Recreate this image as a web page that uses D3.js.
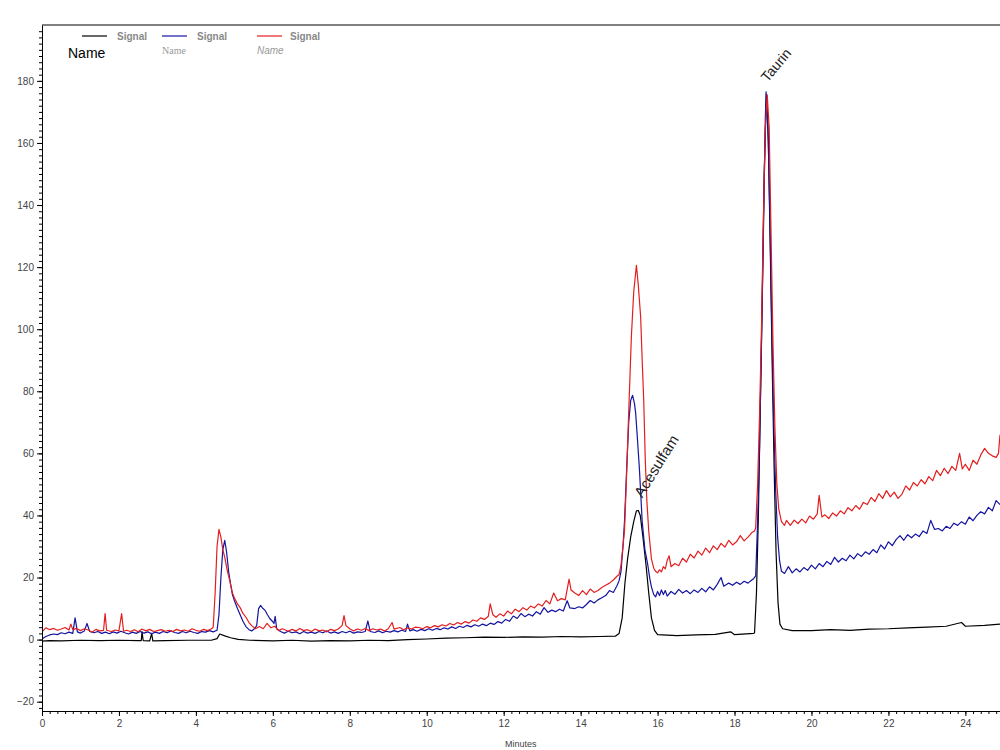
<!DOCTYPE html>
<html>
<head>
<meta charset="utf-8">
<script src="https://cdn.jsdelivr.net/npm/d3@7"></script>
<style>
  body { margin: 0; background: #fff; }
  svg { display: block; font-family: "Liberation Sans", Arial, sans-serif; }
</style>
</head>
<body>
<div id="chart"></div>
<script>
// tick labels
var xTicks = [0, 2, 4, 6, 8, 10, 12, 14, 16, 18, 20, 22, 24];
var yTicks = [-20, 0, 20, 40, 60, 80, 100, 120, 140, 160, 180];

// legend entries
var seriesNames = ["Signal", "Signal", "Signal"];

// peak labels: [minutes, value, text, angle, font size]
var peakLabels = [[15.6, 41.6, "Acesulfam", -58, 15], [18.86, 175.5, "Taurin", -50, 14]];

// traces: [minutes, signal]
var blackSignal = [
  [0, -0.5], [0.2, -0.3], [0.5, -0.4], [1.0, -0.2], [1.5, -0.3], [2.0, -0.2], [2.5, -0.3], [2.58, -0.3],
  [2.6, 2.5], [2.63, -0.3], [2.8, -0.4], [2.85, 2.0], [2.88, -0.4], [3.2, -0.3], [3.8, -0.2], [4.4, -0.2],
  [4.55, 0.3], [4.62, 1.8], [4.75, 1.2], [4.9, 0.6], [5.1, 0.1], [5.4, -0.2], [6.0, -0.4], [6.5, -0.2],
  [7.0, -0.5], [7.5, -0.3], [8.0, -0.4], [8.5, -0.2], [9.0, -0.3], [9.5, 0.0], [10.0, 0.2], [10.5, 0.5],
  [11.0, 0.6], [11.5, 0.8], [12.0, 0.7], [12.5, 0.9], [13.0, 0.8], [13.5, 1.0], [14.0, 0.9], [14.5, 1.0],
  [14.9, 1.1], [15.0, 2], [15.08, 7], [15.15, 18], [15.22, 26], [15.3, 33], [15.38, 38], [15.45, 41.5],
  [15.5, 41.6], [15.55, 40], [15.62, 33], [15.7, 24], [15.77, 15], [15.84, 7], [15.92, 3], [16.0, 1.6],
  [16.5, 1.3], [17.0, 1.5], [17.5, 1.7], [17.9, 2.5], [18.0, 1.6], [18.5, 2.0], [18.52, 2.2],
  [18.57, 15], [18.62, 40], [18.67, 75], [18.72, 110], [18.77, 150], [18.83, 175.5], [18.88, 160],
  [18.93, 125], [18.98, 88], [19.03, 55], [19.08, 28], [19.13, 12], [19.18, 5], [19.25, 3.5],
  [19.5, 2.9], [20.0, 2.9], [20.5, 3.2], [21.0, 3.0], [21.5, 3.4], [22.0, 3.5], [22.5, 3.8], [23.0, 4.0],
  [23.5, 4.3], [23.9, 5.5], [24.0, 4.3], [24.5, 4.6], [24.9, 5.0]
];

var blueSignal = [
  [0, 0.2], [0.1, 1.0], [0.2, 1.5], [0.3, 1.8], [0.4, 1.6], [0.5, 2.2], [0.6, 1.9], [0.7, 2.4], [0.8, 2.0],
  [0.86, 7.0], [0.92, 2.5], [1.0, 2.1], [1.1, 2.8], [1.17, 5.2], [1.24, 2.6], [1.35, 2.2], [1.45, 2.6],
  [1.55, 2.0], [1.65, 2.4], [1.75, 1.9], [1.85, 2.5], [1.95, 2.1], [2.05, 2.7], [2.15, 2.2], [2.25, 1.8],
  [2.35, 2.4], [2.45, 2.0], [2.55, 2.6], [2.65, 2.1], [2.75, 2.5], [2.85, 1.9], [2.95, 2.4], [3.05, 2.0],
  [3.15, 2.6], [3.25, 2.2], [3.35, 2.8], [3.45, 2.3], [3.55, 2.0], [3.65, 2.6], [3.75, 2.2], [3.85, 2.7],
  [3.95, 2.3], [4.05, 2.0], [4.15, 2.6], [4.25, 2.4], [4.35, 2.9], [4.45, 2.5], [4.55, 3.0], [4.6, 8],
  [4.65, 20], [4.7, 29], [4.75, 32], [4.8, 28], [4.85, 22], [4.9, 18], [4.95, 14.5], [5.0, 12.6],
  [5.08, 10], [5.15, 8], [5.22, 6], [5.3, 4.2], [5.38, 3.2], [5.45, 2.8], [5.52, 3.5], [5.58, 4.5],
  [5.63, 10], [5.68, 11], [5.73, 10.2], [5.8, 9.4], [5.86, 8], [5.92, 6.8], [5.98, 6.0], [6.03, 5.2],
  [6.06, 7.5], [6.1, 3.5], [6.2, 2.6], [6.3, 2.1], [6.4, 2.7], [6.5, 2.2], [6.6, 2.5], [6.7, 1.9],
  [6.8, 2.6], [6.9, 2.1], [7.0, 2.4], [7.1, 2.0], [7.2, 2.6], [7.3, 2.2], [7.4, 2.8], [7.5, 2.1],
  [7.6, 2.5], [7.7, 2.0], [7.8, 2.6], [7.9, 2.2], [8.0, 2.7], [8.1, 2.1], [8.2, 2.5], [8.3, 2.3],
  [8.4, 2.6], [8.47, 6.0], [8.53, 2.6], [8.65, 2.3], [8.75, 2.8], [8.85, 2.2], [8.95, 2.7], [9.05, 2.4],
  [9.15, 2.9], [9.25, 2.5], [9.35, 3.0], [9.45, 2.6], [9.5, 5.0], [9.56, 2.8], [9.65, 3.2], [9.75, 2.7],
  [9.85, 3.3], [9.95, 2.9], [10.05, 3.5], [10.15, 3.0], [10.25, 3.6], [10.35, 3.2], [10.45, 3.8],
  [10.55, 3.4], [10.65, 4.1], [10.75, 3.6], [10.85, 4.3], [10.95, 3.9], [11.05, 4.6], [11.15, 4.1],
  [11.25, 4.8], [11.35, 4.3], [11.45, 5.0], [11.55, 4.5], [11.65, 5.3], [11.75, 4.9], [11.85, 5.8],
  [11.95, 5.3], [12.05, 6.5], [12.15, 5.9], [12.25, 7.6], [12.35, 6.8], [12.45, 8.4], [12.55, 7.4],
  [12.65, 8.2], [12.75, 7.6], [12.85, 9.0], [12.95, 8.2], [13.05, 10.3], [13.15, 8.8], [13.25, 9.5],
  [13.35, 9.0], [13.45, 9.8], [13.55, 9.2], [13.65, 12.5], [13.72, 10.2], [13.85, 10.0], [13.95, 10.6],
  [14.05, 10.2], [14.15, 11.3], [14.25, 12.6], [14.35, 11.8], [14.45, 12.8], [14.55, 13.5], [14.65, 14.2],
  [14.75, 15.8], [14.85, 15.2], [14.95, 17.5], [15.0, 19], [15.05, 22], [15.1, 30], [15.14, 38],
  [15.2, 56], [15.25, 70], [15.3, 77], [15.35, 78.7], [15.4, 76], [15.43, 73], [15.48, 64], [15.53, 54.5],
  [15.6, 38], [15.67, 29], [15.74, 24.5], [15.8, 19.5], [15.84, 17], [15.9, 14.5], [15.95, 13.8],
  [16.0, 15.5], [16.05, 14.2], [16.1, 16], [16.15, 14.5], [16.2, 15.8], [16.25, 14.0], [16.35, 15.5],
  [16.45, 14.6], [16.55, 16.2], [16.65, 15.0], [16.75, 15.8], [16.85, 14.8], [16.95, 16.0], [17.05, 15.2],
  [17.15, 16.5], [17.25, 15.4], [17.35, 17.0], [17.45, 16.0], [17.55, 17.8], [17.65, 20.0], [17.72, 17.2],
  [17.85, 18.2], [17.95, 17.5], [18.05, 18.5], [18.15, 17.8], [18.25, 18.8], [18.35, 18.2], [18.45, 19.2],
  [18.5, 19.7], [18.55, 20.5], [18.6, 38], [18.65, 62], [18.7, 95], [18.75, 130], [18.8, 168],
  [18.82, 176.5], [18.87, 165], [18.92, 135], [18.97, 100], [19.02, 70], [19.07, 48], [19.12, 33],
  [19.17, 25.5], [19.22, 22], [19.3, 21.3], [19.4, 23.5], [19.5, 21.5], [19.6, 22.8], [19.7, 21.8],
  [19.8, 23.2], [19.9, 22.3], [20.0, 24.0], [20.1, 22.8], [20.2, 24.5], [20.3, 23.5], [20.4, 25.2],
  [20.5, 24.2], [20.6, 26.5], [20.7, 25.0], [20.8, 26.2], [20.9, 25.4], [21.0, 27.2], [21.1, 26.0],
  [21.2, 27.7], [21.3, 26.8], [21.4, 28.3], [21.5, 27.5], [21.6, 29.0], [21.7, 28.0], [21.8, 30.5],
  [21.9, 29.2], [22.0, 31.5], [22.1, 30.3], [22.2, 32.2], [22.3, 33.5], [22.4, 32.0], [22.5, 33.8],
  [22.6, 32.8], [22.7, 34.0], [22.8, 33.2], [22.9, 35.0], [23.0, 34.2], [23.1, 38.4], [23.2, 35.5],
  [23.3, 35.8], [23.4, 35.0], [23.5, 36.5], [23.6, 35.8], [23.7, 37.5], [23.8, 36.8], [23.9, 38.0],
  [24.0, 37.2], [24.1, 39.5], [24.2, 38.3], [24.3, 40.0], [24.4, 41.2], [24.5, 40.5], [24.6, 42.6],
  [24.7, 41.5], [24.8, 44.8], [24.9, 43.5]
];

var redSignal = [
  [0, 2.5], [0.1, 3.8], [0.2, 3.2], [0.3, 3.6], [0.4, 3.0], [0.5, 3.4], [0.6, 3.9], [0.7, 3.1], [0.75, 5.0],
  [0.8, 3.2], [0.9, 3.6], [1.0, 2.9], [1.1, 3.5], [1.2, 3.1], [1.3, 2.4], [1.4, 3.3], [1.5, 2.8], [1.6, 3.0],
  [1.64, 8.4], [1.68, 3.0], [1.8, 2.6], [1.9, 3.1], [2.0, 2.8], [2.07, 8.4], [2.12, 2.7], [2.2, 3.0],
  [2.3, 2.6], [2.4, 3.2], [2.5, 2.5], [2.6, 3.4], [2.7, 2.8], [2.8, 3.3], [2.9, 2.6], [3.0, 2.9], [3.1, 3.2],
  [3.2, 2.7], [3.3, 3.0], [3.4, 2.6], [3.5, 3.3], [3.6, 2.8], [3.7, 3.1], [3.8, 2.7], [3.9, 3.5], [4.0, 3.0],
  [4.1, 2.7], [4.2, 3.3], [4.3, 2.9], [4.4, 3.4], [4.45, 4], [4.5, 15], [4.55, 30], [4.6, 35.5], [4.65, 33],
  [4.7, 29], [4.75, 26.5], [4.82, 22], [4.88, 19], [4.95, 15], [5.0, 13.5], [5.08, 11.5], [5.15, 10.3],
  [5.22, 8.5], [5.3, 7.2], [5.38, 5.5], [5.45, 4.5], [5.55, 3.5], [5.65, 4.2], [5.75, 3.5], [5.85, 5.2],
  [5.95, 3.8], [6.05, 4.3], [6.15, 2.9], [6.25, 3.5], [6.4, 2.7], [6.5, 3.3], [6.6, 2.8], [6.7, 3.6],
  [6.8, 2.9], [6.9, 3.2], [7.0, 2.6], [7.1, 3.4], [7.2, 2.8], [7.3, 3.1], [7.4, 2.5], [7.5, 3.3], [7.6, 2.9],
  [7.7, 3.4], [7.8, 4.5], [7.85, 7.7], [7.9, 4.5], [8.0, 3.5], [8.1, 2.8], [8.2, 3.4], [8.3, 3.0], [8.4, 3.6],
  [8.5, 2.9], [8.6, 3.5], [8.7, 3.1], [8.8, 3.4], [8.9, 2.8], [9.0, 3.5], [9.1, 5.5], [9.15, 3.4], [9.3, 3.9],
  [9.4, 3.2], [9.5, 3.8], [9.6, 3.4], [9.7, 4.0], [9.8, 3.9], [9.9, 3.5], [10.0, 4.2], [10.1, 3.8],
  [10.2, 4.5], [10.3, 4.1], [10.4, 4.8], [10.5, 4.4], [10.6, 5.2], [10.7, 4.7], [10.8, 5.5], [10.9, 5.0],
  [11.0, 5.8], [11.1, 5.3], [11.2, 6.3], [11.3, 5.9], [11.4, 7.0], [11.5, 6.5], [11.6, 7.5], [11.65, 11.5],
  [11.72, 8], [11.8, 7.2], [11.9, 8.3], [12.0, 7.6], [12.1, 9.2], [12.2, 8.3], [12.3, 9.8], [12.4, 9.0],
  [12.5, 10.3], [12.6, 9.5], [12.7, 10.8], [12.8, 10.2], [12.9, 11.5], [13.0, 10.8], [13.1, 12.6],
  [13.2, 11.5], [13.3, 15.0], [13.4, 12.5], [13.5, 13.2], [13.6, 12.8], [13.7, 19.5], [13.75, 16],
  [13.85, 15], [13.95, 14.2], [14.05, 15.8], [14.15, 14.5], [14.25, 16.3], [14.35, 15.2], [14.45, 15.8],
  [14.55, 16.8], [14.65, 17.5], [14.75, 18.2], [14.85, 19.2], [14.95, 20.5], [15.0, 21], [15.05, 24],
  [15.1, 30], [15.14, 35], [15.2, 55], [15.26, 77], [15.32, 98], [15.38, 112], [15.45, 120.6], [15.5, 114],
  [15.56, 104], [15.6, 90], [15.64, 77], [15.68, 58], [15.72, 45], [15.77, 35], [15.84, 26], [15.9, 23],
  [15.95, 22], [16.0, 21.5], [16.05, 22.5], [16.1, 21.8], [16.15, 23.5], [16.2, 22.8], [16.25, 25.5],
  [16.3, 27], [16.35, 23.5], [16.45, 24.5], [16.55, 23.8], [16.65, 26.2], [16.75, 25], [16.85, 27.5],
  [16.95, 26.3], [17.05, 28.5], [17.15, 27.2], [17.25, 29.5], [17.35, 28], [17.45, 30.2], [17.55, 29],
  [17.65, 31], [17.75, 29.8], [17.85, 32], [17.95, 30.5], [18.05, 31.5], [18.15, 33.5], [18.25, 31.8],
  [18.35, 33], [18.45, 34.5], [18.52, 35], [18.55, 36], [18.6, 50], [18.65, 72], [18.7, 100], [18.75, 135],
  [18.8, 165], [18.85, 175.5], [18.9, 165], [18.95, 130], [19.0, 95], [19.05, 68], [19.1, 50], [19.15, 42],
  [19.22, 38], [19.3, 36.8], [19.35, 38.4], [19.45, 36.8], [19.55, 38.5], [19.65, 37.4], [19.75, 38.8],
  [19.85, 37.6], [19.95, 39.8], [20.05, 38.8], [20.15, 40.5], [20.2, 46.5], [20.27, 39.5], [20.35, 40.2],
  [20.45, 39], [20.55, 40.8], [20.65, 39.8], [20.75, 41.5], [20.85, 40.5], [20.95, 42.5], [21.05, 41.5],
  [21.15, 43.2], [21.25, 42], [21.35, 44.2], [21.45, 43.5], [21.55, 45.8], [21.65, 44.5], [21.75, 47],
  [21.85, 45.5], [21.95, 48], [22.05, 46], [22.15, 47.5], [22.25, 45.5], [22.35, 46.8], [22.45, 49.5],
  [22.55, 48.2], [22.65, 50.6], [22.75, 49.5], [22.85, 51.5], [22.95, 50.2], [23.05, 52.5], [23.15, 51.2],
  [23.25, 54.5], [23.35, 52.8], [23.45, 55.2], [23.55, 53.5], [23.65, 55.8], [23.75, 54.5], [23.85, 60],
  [23.92, 55], [24.0, 56.5], [24.1, 54.5], [24.2, 57.8], [24.3, 56.5], [24.4, 59.5], [24.5, 61.6],
  [24.6, 60], [24.7, 59.2], [24.8, 58.7], [24.86, 60], [24.9, 66]
];

function init() {
    var w = 1000;
    var h = 750;
    var padding = { top: 25, right: 0, bottom: 39, left: 42 };

    var xScale = d3.scaleLinear().domain([0, 24.9]).range([padding.left, w - padding.right]);
    var yScale = d3.scaleLinear().domain([-23, 198]).range([h - padding.bottom, padding.top]);

    var svg = d3.select("#chart")
        .append("svg")
        .attr("width", w)
        .attr("height", h);

    svg.append("clipPath").attr("id", "plot")
        .append("rect")
        .attr("x", padding.left)
        .attr("y", padding.top)
        .attr("width", w - padding.left - padding.right)
        .attr("height", h - padding.top - padding.bottom);

    // traces
    var line = d3.line()
        .x(d => xScale(d[0]))
        .y(d => yScale(d[1]));

    var traces = [
        { data: blackSignal, color: "#000000" },
        { data: blueSignal, color: "#1414a0" },
        { data: redSignal, color: "#e41e1e" }
    ];

    traces.forEach(function(t) {
        svg.append("path")
            .datum(t.data)
            .attr("clip-path", "url(#plot)")
            .attr("fill", "none")
            .attr("stroke", t.color)
            .attr("stroke-width", 1.2)
            .attr("stroke-linejoin", "round")
            .attr("d", line);
    });

    // minor ticks
    svg.append("g")
        .attr("transform", "translate(" + padding.left + ",0)")
        .call(d3.axisLeft(yScale).tickValues(d3.range(-22, 198, 2)).tickSize(3).tickFormat(""))
        .call(g => g.select(".domain").remove());
    svg.append("g")
        .attr("transform", "translate(0," + (h - padding.bottom) + ")")
        .call(d3.axisBottom(xScale).tickValues(d3.range(0.2, 24.9, 0.2)).tickSize(3).tickFormat(""))
        .call(g => g.select(".domain").remove());

    // major ticks with labels
    var yAxis = svg.append("g")
        .attr("transform", "translate(" + padding.left + ",0)")
        .call(d3.axisLeft(yScale).tickValues(yTicks).tickSize(5).tickPadding(3).tickSizeOuter(0));
    var xAxis = svg.append("g")
        .attr("transform", "translate(0," + (h - padding.bottom) + ")")
        .call(d3.axisBottom(xScale).tickValues(xTicks).tickSize(5).tickPadding(4).tickSizeOuter(0));

    [yAxis, xAxis].forEach(function(g) {
        g.selectAll("text")
            .attr("fill", "#444")
            .style("font-size", "10px")
            .style("font-family", "'Liberation Sans', Arial, sans-serif");
    });
    svg.selectAll(".tick line").attr("stroke", "#000");

    // top frame line
    svg.append("line")
        .attr("x1", padding.left).attr("x2", w)
        .attr("y1", padding.top).attr("y2", padding.top)
        .attr("stroke", "#000").attr("stroke-width", 1);

    // axis title
    svg.append("text")
        .attr("x", 505)
        .attr("y", 747)
        .attr("fill", "#444")
        .style("font-size", "9px")
        .text("Minutes");

    // peak labels
    peakLabels.forEach(function(p) {
        var px = xScale(p[0]);
        var py = yScale(p[1]) - 12;
        svg.append("text")
            .attr("transform", "translate(" + px + "," + py + ") rotate(" + p[3] + ")")
            .attr("fill", "#222")
            .style("font-size", p[4] + "px")
            .text(p[2]);
    });

    // legend
    var legendX = [82, 162, 257];
    var legendSub = [
        { text: "Name", size: "14px", family: "'Liberation Sans', Arial, sans-serif", style: "normal", color: "#000", x: 68, y: 58 },
        { text: "Name", size: "10px", family: "'Liberation Serif', 'Times New Roman', serif", style: "normal", color: "#999", x: 162, y: 54 },
        { text: "Name", size: "10px", family: "'Liberation Sans', Arial, sans-serif", style: "italic", color: "#999", x: 257, y: 54 }
    ];
    traces.forEach(function(t, i) {
        svg.append("line")
            .attr("x1", legendX[i]).attr("x2", legendX[i] + 25)
            .attr("y1", 36).attr("y2", 36)
            .attr("stroke", t.color).attr("stroke-width", 1.2);
        svg.append("text")
            .attr("x", legendX[i] + 35 - (i === 2 ? 2 : 0))
            .attr("y", 40)
            .attr("fill", "#888")
            .style("font-size", "10px")
            .style("font-weight", "bold")
            .text(seriesNames[i]);
        var s = legendSub[i];
        svg.append("text")
            .attr("x", s.x)
            .attr("y", s.y)
            .attr("fill", s.color)
            .style("font-size", s.size)
            .style("font-family", s.family)
            .style("font-style", s.style)
            .text(s.text);
    });
}

window.onload = init;
</script>
</body>
</html>
